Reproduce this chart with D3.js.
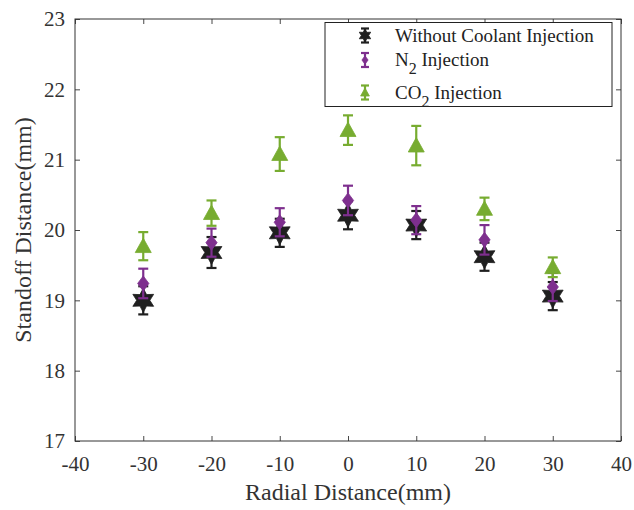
<!DOCTYPE html>
<html>
<head>
<meta charset="utf-8">
<script src="https://cdn.jsdelivr.net/npm/d3@7"></script>
<style>
  body { margin: 0; background: #fff; }
  text { font-family: "Liberation Serif", "Times New Roman", serif; }
</style>
</head>
<body>
<div id="chart"></div>
<script>
// data
var radial = [-30, -20, -10, 0, 10, 20, 30];
var noCoolant = [19.0, 19.68, 19.96, 20.21, 20.07, 19.62, 19.06];
var noCoolantErr = [0.2, 0.22, 0.2, 0.2, 0.2, 0.2, 0.2];
var n2 = [19.24, 19.82, 20.11, 20.42, 20.14, 19.86, 19.19];
var n2Err = [0.21, 0.2, 0.2, 0.21, 0.2, 0.21, 0.2];
var co2 = [19.77, 20.24, 21.08, 21.42, 21.2, 20.3, 19.47];
var co2Err = [0.2, 0.18, 0.24, 0.21, 0.28, 0.16, 0.14];
var xTicks = [-40, -30, -20, -10, 0, 10, 20, 30, 40];
var yTicks = [17, 18, 19, 20, 21, 22, 23];

var margin = {top: 19, right: 13, bottom: 69, left: 75},
  width = 634 - margin.left - margin.right,
  height = 510 - margin.top - margin.bottom;

var svg = d3.select("#chart")
  .append("svg")
    .attr("width", 634)
    .attr("height", 510)
  .append("g")
    .attr("transform", "translate(" + margin.left + "," + margin.top + ")");

var x = d3.scaleLinear().domain([-40, 40]).range([0, width]);
var y = d3.scaleLinear().domain([17, 23]).range([height, 0]);

// plain hyphen for negatives, like the original
var fmt = d => String(d);

// axes with inward ticks on all four sides
function styleAxis(g) {
  g.select(".domain").remove();
  g.selectAll("line").attr("stroke", "#333").attr("stroke-width", 0.9);
  g.selectAll("text").attr("fill", "#333").style("font-size", "21px");
}
svg.append("g")
  .attr("transform", "translate(0," + height + ")")
  .call(d3.axisBottom(x).tickValues(xTicks).tickSizeInner(-5).tickPadding(15).tickFormat(fmt))
  .call(styleAxis);
svg.append("g")
  .call(d3.axisLeft(y).tickValues(yTicks).tickSizeInner(-5).tickPadding(10).tickFormat(fmt))
  .call(styleAxis);
svg.append("g")
  .call(d3.axisTop(x).tickValues(xTicks).tickSizeInner(-5).tickFormat(""))
  .call(styleAxis);
svg.append("g")
  .attr("transform", "translate(" + width + ",0)")
  .call(d3.axisRight(y).tickValues(yTicks).tickSizeInner(-5).tickFormat(""))
  .call(styleAxis);

svg.append("rect")
  .attr("width", width).attr("height", height)
  .attr("fill", "none").attr("stroke", "#333").attr("stroke-width", 1);

// axis titles
svg.append("text")
  .attr("x", width / 2).attr("y", height + 59)
  .attr("text-anchor", "middle")
  .style("font-size", "24px").attr("fill", "#333")
  .text("Radial Distance(mm)");
svg.append("text")
  .attr("transform", "translate(" + (-44) + "," + (height / 2) + ") rotate(-90)")
  .attr("text-anchor", "middle")
  .style("font-size", "24px").attr("fill", "#333")
  .text("Standoff Distance(mm)");

// hexagram path
function hexagram(r) {
  var pts = [];
  for (var i = 0; i < 12; i++) {
    var a = -Math.PI / 2 + i * Math.PI / 6;
    var rr = i % 2 === 0 ? r : r * 0.55;
    pts.push([rr * Math.cos(a), rr * Math.sin(a)]);
  }
  return "M" + pts.join("L") + "Z";
}
var markers = {
  star: function(s) { return hexagram(s); },
  diamond: function(s) { return "M0," + (-s) + "L" + (s * 0.75) + ",0L0," + s + "L" + (-s * 0.75) + ",0Z"; },
  triangle: function(s) { return "M0," + (-s) + "L" + (s * 1.0) + "," + (s * 0.8) + "L" + (-s * 1.0) + "," + (s * 0.8) + "Z"; }
};

var series = [
  {name: "Without Coolant Injection", values: noCoolant, err: noCoolantErr, color: "#1f1f1f", shape: "star", size: 12},
  {name: "N2", values: n2, err: n2Err, color: "#7E2F8E", shape: "diamond", size: 7.5},
  {name: "CO2", values: co2, err: co2Err, color: "#77AC30", shape: "triangle", size: 8}
];

series.forEach(function(s) {
  var g = svg.append("g");
  var pts = radial.map(function(r, i) { return {x: r, y: s.values[i], e: s.err[i]}; });
  var eb = g.selectAll(".eb").data(pts).enter().append("g")
    .attr("stroke", s.color).attr("stroke-width", 2.2);
  eb.append("line")
    .attr("x1", d => x(d.x)).attr("x2", d => x(d.x))
    .attr("y1", d => y(d.y - d.e)).attr("y2", d => y(d.y + d.e));
  eb.append("line")
    .attr("x1", d => x(d.x) - 5).attr("x2", d => x(d.x) + 5)
    .attr("y1", d => y(d.y - d.e)).attr("y2", d => y(d.y - d.e));
  eb.append("line")
    .attr("x1", d => x(d.x) - 5).attr("x2", d => x(d.x) + 5)
    .attr("y1", d => y(d.y + d.e)).attr("y2", d => y(d.y + d.e));
  g.selectAll(".m").data(pts).enter().append("path")
    .attr("d", markers[s.shape](s.size))
    .attr("transform", d => "translate(" + x(d.x) + "," + y(d.y) + ")")
    .attr("fill", s.color).attr("stroke", s.color).attr("stroke-width", 0.8);
});

// legend
var lg = svg.append("g").attr("transform", "translate(" + (325 - margin.left) + "," + (22.5 - margin.top) + ")");
lg.append("rect").attr("width", 287).attr("height", 84)
  .attr("fill", "#fff").attr("stroke", "#222").attr("stroke-width", 1);
var markY = [13, 37.5, 70];
series.forEach(function(s, i) {
  var row = lg.append("g").attr("transform", "translate(40," + markY[i] + ")");
  row.append("line").attr("x1", 0).attr("x2", 0).attr("y1", -7).attr("y2", 7)
    .attr("stroke", s.color).attr("stroke-width", 2.2);
  row.append("line").attr("x1", -4).attr("x2", 4).attr("y1", -7).attr("y2", -7)
    .attr("stroke", s.color).attr("stroke-width", 2.2);
  row.append("line").attr("x1", -4).attr("x2", 4).attr("y1", 7).attr("y2", 7)
    .attr("stroke", s.color).attr("stroke-width", 2.2);
  row.append("path").attr("d", markers[s.shape](s.size * 0.55))
    .attr("fill", s.color).attr("stroke", s.color).attr("stroke-width", 0.8);
  var t = row.append("text").attr("x", 30).attr("y", 6)
    .style("font-size", "19px").attr("fill", "#222");
  if (i === 0) {
    t.text(s.name);
  } else {
    t.append("tspan").text(i === 1 ? "N" : "CO");
    t.append("tspan").attr("dy", 8).style("font-size", "16px").text("2");
    t.append("tspan").attr("dy", -8).text(" Injection");
  }
});
</script>
</body>
</html>
